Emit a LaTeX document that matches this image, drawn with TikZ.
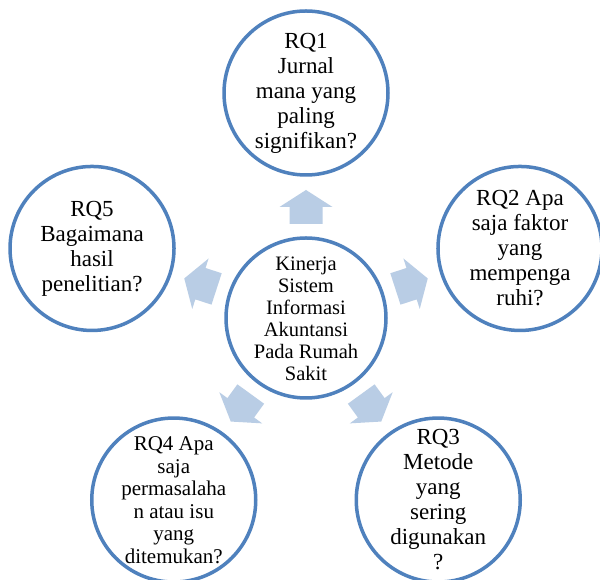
\documentclass[tikz,border=0pt]{standalone}
\usepackage{fontspec}
\setmainfont{Liberation Serif}
\usetikzlibrary{calc}
\definecolor{bubblue}{RGB}{79,129,189}
\definecolor{arrblue}{RGB}{185,205,229}
\tikzset{
  bub/.style={circle, draw=bubblue, line width=3.5pt, fill=white, minimum size=164pt, inner sep=0pt},
  cbub/.style={bub, minimum size=160pt},
  txt/.style={align=center, inner sep=0pt, font=\fontsize{23}{25}\selectfont},
  smalltxt/.style={align=center, inner sep=0pt, font=\fontsize{21}{22.5}\selectfont},
  ctxt/.style={align=center, inner sep=0pt, font=\fontsize{20.5}{22}\selectfont},
  radarrow/.pic={\fill[arrblue] (94,-16.5) -- (111,-16.5) -- (111,-26.5) -- (128,0) -- (111,26.5) -- (111,16.5) -- (94,16.5) -- cycle;}
}
\begin{document}
\begin{tikzpicture}[x=1pt,y=1pt]
\useasboundingbox (0,0) rectangle (600,580);
\fill[white] (0,0) rectangle (600,580);
\coordinate (c0) at (306,262);
% arrows
\path (c0) pic[rotate=90]{radarrow};
\path (c0) pic[rotate=18]{radarrow};
\path (c0) pic[rotate=-54]{radarrow};
\path (c0) pic[rotate=-126]{radarrow};
\path (c0) pic[rotate=162]{radarrow};
% circles
\node[cbub] (c) at (c0) {};
\node[bub] (rq1) at ($(c0)+(90:225)$) {};
\node[bub] (rq2) at ($(c0)+(18:225)$) {};
\node[bub] (rq3) at ($(c0)+(-54:225)$) {};
\node[bub] (rq4) at ($(c0)+(-126:225)$) {};
\node[bub] (rq5) at ($(c0)+(162:225)$) {};
% texts
\node[ctxt] (tc) at ([yshift=-1pt]c.center) {Kinerja\\Sistem\\Informasi\\Akuntansi\\Pada Rumah\\Sakit};
\node[txt] (t1) at (rq1.center) {RQ1\\Jurnal\\mana yang\\paling\\signifikan?};
\node[txt] (t2) at (rq2.center) {RQ2 Apa\\saja faktor\\yang\\mempenga\\ruhi?};
\node[txt] (t3) at (rq3.center) {RQ3\\Metode\\yang\\sering\\digunakan\\?};
\node[smalltxt] (t4) at (rq4.center) {RQ4 Apa\\saja\\permasalaha\\n atau isu\\yang\\ditemukan?};
\node[txt] (t5) at (rq5.center) {RQ5\\Bagaimana\\hasil\\penelitian?};
\end{tikzpicture}
\end{document}
